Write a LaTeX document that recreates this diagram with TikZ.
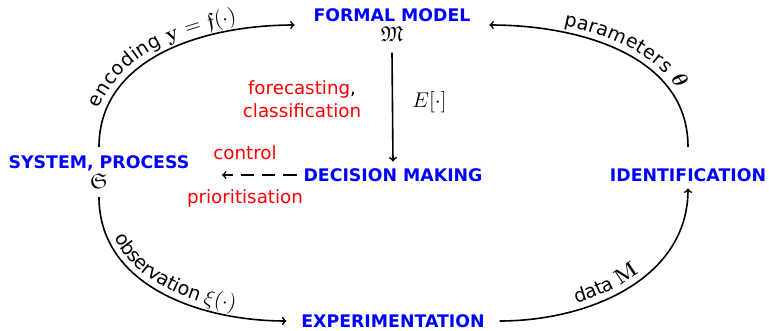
\RequirePackage{fix-cm}
\documentclass[tikz,border=0pt]{standalone}
\usepackage{amsmath,amssymb}
\usepackage[no-math]{fontspec}
\setmainfont{DejaVu Sans}
\usetikzlibrary{decorations.text}
\newcommand{\lgmath}[1]{{\fontsize{16}{18}\selectfont$#1$}}
\begin{document}
\begin{tikzpicture}[x=0.75pt,y=0.75pt,
  title/.style={font=\fontsize{13}{16.5}\selectfont\bfseries, text=blue, align=center},
  note/.style={font=\fontsize{13.7}{17}\selectfont, text=red, align=center, inner sep=0pt},
  conn/.style={line width=1.2pt, ->},
  lbl/.style={decorate, decoration={text along path, raise=5pt}},
]
\useasboundingbox (0,0) rectangle (769,330);
% main nodes
\node[title, inner xsep=14pt, inner ysep=8pt] (fm) at (392,305) {FORMAL MODEL\\[-1pt]{\color{black}\lgmath{\mathfrak{M}}}};
\node[title, inner xsep=5pt, inner ysep=6pt] (sys) at (99,158) {SYSTEM, PROCESS\\[-1pt]{\color{black}\lgmath{\mathfrak{S}}}};
\node[title, inner sep=5pt] (dm) at (393,155) {DECISION MAKING};
\node[title, inner sep=5pt] (id) at (688,155) {IDENTIFICATION};
\node[title, inner xsep=11pt, inner ysep=4pt] (ex) at (393,9) {EXPERIMENTATION};
% red notes
\node[note] (fc) at (302,231) {forecasting{\color{black},}\\classification};
\node[note] (ctl) at (245,177) {control};
\node[note] (pri) at (245,132) {prioritisation};
\coordinate (dmend) at (222,155);
% straight connectors
\draw[conn] (fm.south) -- node[right=11pt, yshift=4pt] (ev) {\lgmath{E[\cdot]}} (dm.north);
\draw[conn, dash pattern=on 10pt off 6pt] (dm.west) -- (dmend);
% curved connectors
\draw[conn] (sys.north) to[out=90,in=180] (fm.west);
\path[lbl, decoration={text align={align=left, left indent=27pt}, text={|\fontsize{14.3}{16}\selectfont|encoding {\lgmath{\mathbf{y}}} {\lgmath{=}} {\lgmath{\mathfrak{f}(\cdot)}}}}]
  (sys.north) to[out=90,in=180] (fm.west);
\draw[conn] ([yshift=11pt]id.north) to[out=90,in=0] (fm.east);
\path[lbl, decoration={text align={align=left, left indent=55pt}, text={|\fontsize{14.3}{16}\selectfont|parameters {\lgmath{\boldsymbol{\theta}}}}}]
  (fm.east) to[out=0,in=90] ([yshift=11pt]id.north);
\draw[conn] (sys.south) to[out=-90,in=180] (ex.west);
\path[lbl, decoration={text align={align=left, left indent=34pt}, text={|\fontsize{14.3}{16}\selectfont|observation {\lgmath{\xi(\cdot)}}}}]
  (sys.south) to[out=-90,in=180] (ex.west);
\draw[conn] (ex.east) to[out=0,in=-90] (id.south);
\path[lbl, decoration={text align={align=left, left indent=60pt}, text={|\fontsize{14.3}{16}\selectfont|data {\lgmath{\mathbf{M}}}}}]
  (ex.east) to[out=0,in=-90] (id.south);
\end{tikzpicture}
\end{document}
